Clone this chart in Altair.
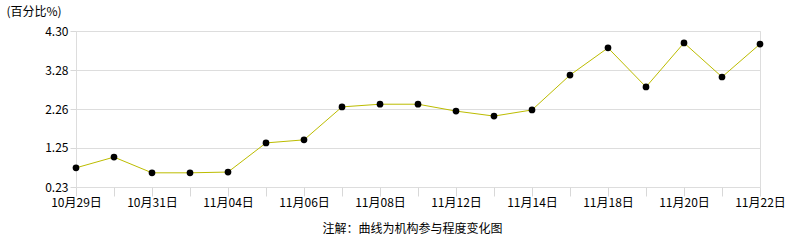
import altair as alt
import pandas as pd

dates = ["10月29日", "10月30日", "10月31日", "11月03日", "11月04日", "11月05日",
         "11月06日", "11月07日", "11月08日", "11月11日", "11月12日", "11月13日",
         "11月14日", "11月15日", "11月18日", "11月19日", "11月20日", "11月21日",
         "11月22日"]
values = [0.73, 1.01, 0.60, 0.60, 0.62, 1.38, 1.46, 2.32, 2.39, 2.39, 2.21,
          2.08, 2.24, 3.15, 3.86, 2.84, 3.99, 3.10, 3.96]
shown_labels = ["10月29日", "10月31日", "11月04日", "11月06日", "11月08日",
                "11月12日", "11月14日", "11月18日", "11月20日", "11月22日"]
y_ticks = [0.23, 1.25, 2.26, 3.28, 4.30]

df = pd.DataFrame({"date": dates, "value": values})

FONT = "Noto Sans CJK SC"
label_list = "[" + ",".join("'" + s + "'" for s in shown_labels) + "]"

x = alt.X(
    "date:O",
    sort=dates,
    scale=alt.Scale(type="point", padding=0),
    axis=alt.Axis(
        title="注解：曲线为机构参与程度变化图",
        titleFont=FONT, titleFontSize=12, titleFontWeight="normal", titleColor="#000",
        titleX=336, titleY=41, titleBaseline="middle", titleAlign="center",
        labelExpr=f"indexof({label_list}, datum.value) >= 0 ? datum.label : ''",
        labelOverlap=False, labelAngle=0, labelFont=FONT, labelFontSize=12,
        labelColor="#000", labelPadding=1,
        tickSize=9, tickColor="#d8d8d8", domain=False, grid=False,
    ),
)
y = alt.Y(
    "value:Q",
    scale=alt.Scale(domain=[0.23, 4.30], nice=False, zero=False),
    axis=alt.Axis(
        title="(百分比%)", titleAngle=0, titleAlign="left", titleBaseline="middle",
        titleX=-70, titleY=-20, titleFont=FONT, titleFontSize=12,
        titleFontWeight="normal", titleColor="#000",
        values=y_ticks, format=".2f", labelFont=FONT, labelFontSize=12,
        labelColor="#000", labelPadding=2, tickSize=6, tickColor="#d8d8d8",
        domain=False, grid=True, gridColor="#dddddd", gridWidth=1,
    ),
)

base = alt.Chart(df).encode(x=x, y=y)
line = base.mark_line(color="#bcbc00", strokeWidth=1)
pts = base.mark_point(filled=True, color="#000", opacity=1, size=45)

chart = (
    alt.layer(line, pts)
    .properties(width=684, height=156, autosize=alt.AutoSizeParams(type="none"),
                padding={"left": 76, "top": 31, "right": 26, "bottom": 53})
    .configure_view(stroke="#dddddd", strokeWidth=1)
    .configure(background="white")
)

chart.save("out.html", embed_options={"renderer": "svg", "actions": False})
